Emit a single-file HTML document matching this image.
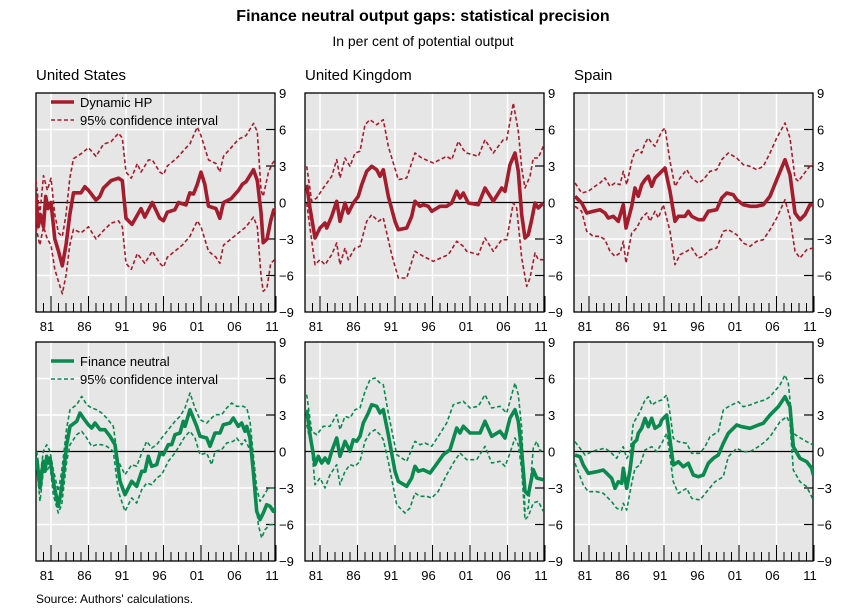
<!DOCTYPE html>
<html><head><meta charset="utf-8"><style>
body{margin:0;background:#fff;width:847px;height:609px;overflow:hidden;font-family:"Liberation Sans",Arial,sans-serif}
</style></head><body>
<svg id="s" width="847" height="609" xmlns="http://www.w3.org/2000/svg" font-family="Liberation Sans, Arial, sans-serif">
<text x="423" y="21" text-anchor="middle" font-size="16" font-weight="bold">Finance neutral output gaps: statistical precision</text>
<text x="423" y="46" text-anchor="middle" font-size="14">In per cent of potential output</text>
<text x="36" y="80" font-size="15">United States</text>
<text x="305" y="80" font-size="15">United Kingdom</text>
<text x="574" y="80" font-size="15">Spain</text>
<text x="36" y="603" font-size="12">Source: Authors' calculations.</text>
</svg>
<script>
const S=document.getElementById('s');const NS='http://www.w3.org/2000/svg';
function el(t,a,txt){const e=document.createElementNS(NS,t);for(const k in a)e.setAttribute(k,a[k]);if(txt!=null)e.textContent=txt;S.appendChild(e);return e;}
const W=239,H=219,U=H/18;
const RED='#a51d2d',GRN='#0b8a50';
function panel(L,T,id){
 el('rect',{x:L,y:T,width:W,height:H,fill:'#e6e6e6'});
 const cp=el('clipPath',{id:id});const r=document.createElementNS(NS,'rect');r.setAttribute('x',L);r.setAttribute('y',T);r.setAttribute('width',W);r.setAttribute('height',H);cp.appendChild(r);
 for(const v of [6,3,-3,-6]){const y=T+H/2-v*U;el('line',{x1:L,x2:L+W,y1:y,y2:y,stroke:'#fff','stroke-width':1.5});el('line',{x1:L+W-9,x2:L+W,y1:y,y2:y,stroke:'#000','stroke-width':1.2});}
 const labs=['81','86','91','96','01','06','11'];
 for(let i=0;i<7;i++){const x=L+15+i*37.5;el('line',{x1:x,x2:x,y1:T,y2:T+H-16,stroke:'#fff','stroke-width':1.5});el('text',{x:x-4,y:T+H+19,'font-size':13,'text-anchor':'middle'},labs[i]);}
 for(let yr=1980;yr<=2011;yr++){const x=L+(yr-1979)*7.5;const maj=(yr-1981)%5==0;el('line',{x1:x,x2:x,y1:T+H-(maj?16:9),y2:T+H,stroke:'#000','stroke-width':1});}
 el('line',{x1:L,x2:L+W,y1:T+H/2,y2:T+H/2,stroke:'#000','stroke-width':1.3});
 el('rect',{x:L,y:T,width:W,height:H,fill:'none',stroke:'#000','stroke-width':1.3});
 [9,6,3,0,-3,-6,-9].forEach(v=>el('text',{x:L+W+4,y:T+H/2-v*U+5,'font-size':13},(v<0?'\u2212'+(-v):v)));
}
function line(pts,col,main,clip){
 el('polyline',{points:pts.map(p=>p[0].toFixed(1)+','+p[1].toFixed(1)).join(' '),fill:'none',stroke:col,'stroke-width':main?3.6:1.6,'stroke-dasharray':main?'':'4,2.5','stroke-linejoin':'round','clip-path':'url(#'+clip+')'});
}
// US red from year/value
function yv(L,T,a){const o=[];for(let i=0;i<a.length;i+=2)o.push([L+(a[i]-1979)*7.5,T+H/2-a[i+1]*U]);return o;}
function zp(zx,zy,a){const o=[];for(let i=0;i<a.length;i+=2)o.push([zx+a[i]/3,zy+a[i+1]/3]);return o;}
panel(36,93,'c1');panel(305,93,'c2');panel(574,93,'c3');
panel(36,342,'c4');panel(305,342,'c5');panel(574,342,'c6');
// US red
line(yv(36,93,[1979,1.8,1979.5,-1,1980,2.2,1980.5,1,1981,2,1981.5,-1,1982,-2.5,1982.5,-2.8,1983,-1,1983.5,2,1984,3.6,1985,4,1986,4.5,1987,3.8,1988,4.8,1989,5,1990,5.7,1990.5,5.3,1991,2.5,1991.7,2,1992.5,3.2,1993,2.5,1994,3.5,1994.5,3.5,1995.5,2.5,1996,2.3,1996.5,3,1997.5,3.5,1998,3.8,1999,4.5,1999.5,4.8,2000,5.5,2000.5,6.2,2001,5.5,2002,3.5,2003,3.2,2003.5,2.5,2004,3.8,2005,4.5,2006,5.2,2007,5.5,2008,6.5,2008.5,5.8,2009,1,2009.3,0.5,2010,2.5,2010.5,3.2,2011,3.6,2011.2,4.2]),RED,0,'c1');
line(yv(36,93,[1979,-2,1979.5,-3.5,1980,-2,1980.5,-3,1981,-3.5,1981.5,-5.5,1982,-6.5,1982.5,-7.5,1983,-6,1983.5,-3.5,1984,-2.2,1985,-2.5,1986,-2,1987,-3,1988,-2.3,1989,-1.7,1990,-1.5,1990.5,-2,1991,-5,1991.7,-5.5,1992.5,-4.2,1993.5,-5,1994.5,-4,1995.5,-5,1996,-5.3,1996.5,-4.5,1997.5,-4,1998.5,-3.5,1999.5,-2.8,2000.5,-1.5,2001,-2,2002,-4,2003,-4.5,2003.5,-5,2004,-3.5,2005,-3,2006,-2.5,2007,-2,2008,-1.2,2008.5,-2,2009,-6,2009.3,-7.3,2009.8,-7,2010.3,-5,2011,-4.6]),RED,0,'c1');
line(yv(36,93,[1979,0.5,1979.3,-2,1979.6,-1,1980,-2,1980.3,0.5,1980.6,-0.5,1981,0,1981.5,-3,1982,-4,1982.5,-5.2,1983,-3.5,1983.5,-1,1984,0.8,1985,0.8,1985.5,1.3,1986,1,1987,0.2,1987.5,0.5,1988,1.2,1988.5,1.5,1989,1.8,1990,2,1990.5,1.8,1991,-1.3,1991.8,-1.8,1993,-0.5,1993.5,-1.2,1994.5,0,1995.5,-1.3,1996,-1.5,1996.5,-0.8,1997.5,-0.6,1998,0,1999,-0.2,1999.5,0.8,2000,0.7,2000.5,1.5,2001,2.5,2001.5,1.5,2002,-0.3,2003,-0.5,2003.5,-1.3,2004,0,2005,0.3,2006,1,2006.5,1.5,2007,1.7,2008,2.7,2008.5,1.8,2009,-0.8,2009.3,-3.3,2009.8,-3,2010.3,-1.5,2010.7,-0.6,2011,-0.7,2011.2,0]),RED,1,'c1');
// UK red
line(zp(300,88,[20,235,35,340,50,330,70,300,95,265,110,215,120,270,135,210,150,235,165,195,180,190,195,110,210,95,230,110,250,95,265,175,295,275,320,270,345,195,365,210,400,225,440,205,455,215,475,160,490,185,500,195,535,205,555,155,580,195,610,155,620,155,640,45,655,130,665,240,675,300,690,265,700,210,715,210,730,175]),RED,0,'c2');
line(zp(300,88,[20,345,30,420,45,530,60,515,75,530,95,500,110,465,120,530,135,480,145,515,165,480,180,475,200,400,215,380,235,400,250,390,275,500,295,570,320,570,345,490,370,505,400,520,445,500,470,460,490,475,500,490,535,500,555,450,580,490,605,455,620,455,640,345,650,360,665,510,680,595,690,570,705,495,715,515,730,515]),RED,0,'c2');
line(zp(300,88,[20,290,30,360,45,450,60,420,75,405,80,420,95,385,110,340,120,400,135,345,145,375,160,345,175,325,185,290,200,250,215,235,230,245,240,265,250,245,265,325,285,400,295,425,320,420,335,385,345,340,360,355,370,350,385,355,395,370,420,355,440,355,455,345,470,310,480,330,490,315,505,345,535,350,555,300,580,340,605,300,615,310,630,230,645,195,655,250,665,380,675,450,685,440,695,395,705,345,715,360,730,345]),RED,1,'c2');
// Spain red
line(zp(570,88,[15,285,35,315,55,310,75,295,90,285,105,270,120,295,135,285,150,290,160,250,170,290,185,220,195,190,205,185,215,195,225,165,235,150,245,165,255,175,275,130,285,120,300,220,315,295,330,270,350,245,365,270,385,285,400,275,420,250,440,245,455,215,475,195,500,210,520,230,540,235,560,245,580,235,600,195,620,150,645,105,660,150,675,270,685,280,700,260,715,240,730,225]),RED,0,'c3');
line(zp(570,88,[15,355,35,370,50,430,70,445,90,445,105,455,120,490,135,505,150,495,160,460,168,525,185,435,200,420,215,390,230,375,240,400,255,370,265,390,280,350,300,430,315,530,330,500,350,490,365,480,385,510,400,505,420,485,440,480,460,430,475,425,500,440,520,465,540,475,560,460,580,455,600,425,620,390,645,335,660,390,675,490,690,510,710,485,730,480]),RED,0,'c3');
line(zp(570,88,[15,325,35,345,50,375,70,370,90,365,105,375,115,390,130,385,145,400,160,350,168,420,185,355,195,300,205,325,215,290,225,275,235,265,245,295,255,270,270,255,285,240,300,310,315,400,325,385,345,385,355,370,365,385,385,395,400,395,415,370,440,365,455,330,470,315,490,320,500,335,520,350,540,355,560,355,580,350,600,325,620,275,645,215,660,260,675,375,690,395,705,380,720,350,730,350]),RED,1,'c3');
// US green
line(zp(30,338,[20,340,30,420,40,340,50,320,60,340,70,395,85,460,95,400,110,270,120,215,140,200,155,175,170,200,185,210,200,215,215,225,230,240,250,265,265,370,285,410,305,380,320,385,335,345,350,310,365,330,380,320,395,300,415,275,435,250,450,235,465,210,480,165,495,210,510,245,530,255,545,240,555,230,575,230,590,210,605,195,620,205,640,205,650,210,660,250,670,350,680,450,690,490,700,475,715,450,730,450,740,440]),GRN,0,'c4');
line(zp(30,338,[20,380,30,490,40,400,50,400,60,380,70,470,85,525,95,500,110,370,120,320,140,290,155,280,170,300,185,325,200,320,215,320,230,325,250,340,265,460,285,520,305,480,320,495,335,455,350,435,365,440,380,420,395,410,415,370,435,345,450,320,465,295,480,280,495,300,510,350,530,345,545,380,555,340,575,335,590,315,610,310,620,300,635,320,645,305,655,325,665,350,675,450,685,560,695,600,705,575,720,560,730,560,740,570]),GRN,0,'c4');
line(zp(30,338,[20,360,30,450,40,370,45,400,50,355,55,375,60,360,70,430,85,505,95,450,110,320,120,265,140,250,150,225,160,240,175,260,185,270,195,255,210,275,225,275,240,295,255,320,270,430,285,470,305,430,320,445,335,400,345,400,355,355,365,385,380,380,390,345,400,350,415,320,425,320,435,290,450,285,460,250,465,265,480,215,490,240,500,265,510,295,530,300,540,325,555,285,570,285,580,260,600,255,610,240,625,265,635,255,645,280,650,265,660,300,670,400,680,520,690,545,700,525,710,500,720,505,730,520,740,505]),GRN,1,'c4');
// UK green
line(zp(300,338,[20,170,35,280,50,290,70,265,90,265,110,230,120,275,135,235,150,240,165,215,180,210,195,160,210,125,225,120,240,135,250,140,265,225,290,350,320,370,345,310,360,320,375,315,395,325,415,295,440,255,460,200,490,190,510,210,535,205,555,170,575,210,600,205,620,225,645,135,655,170,665,270,675,520,685,510,700,330,710,310,720,340,730,330]),GRN,0,'c5');
line(zp(300,338,[20,260,35,330,45,440,60,420,75,450,90,410,110,380,120,440,135,400,150,380,165,385,180,370,195,310,210,285,225,275,240,290,250,305,265,370,290,500,315,525,330,510,345,465,360,475,380,475,395,480,415,460,440,410,460,375,480,345,500,365,530,365,555,325,575,375,600,370,615,385,630,345,645,300,655,320,665,395,675,545,685,535,700,495,715,490,730,520]),GRN,0,'c5');
line(zp(300,338,[20,215,30,290,45,380,55,355,65,375,75,360,85,375,95,340,110,300,120,355,135,310,150,340,160,305,170,310,180,295,190,255,205,225,215,200,230,205,240,225,250,215,265,290,285,400,295,430,320,445,335,420,345,385,355,400,370,395,390,405,405,385,430,350,450,335,470,270,480,285,490,265,510,285,540,285,555,250,575,295,600,280,615,300,630,240,645,215,655,250,665,340,675,460,685,470,700,395,710,420,730,425]),GRN,1,'c5');
// Spain green
line(zp(520,300,[165,425,180,445,195,465,215,455,230,450,255,445,270,455,290,475,300,455,310,440,320,475,330,460,340,370,360,335,375,300,385,290,395,315,410,305,425,300,440,285,450,340,460,415,475,425,500,430,515,460,540,460,555,440,570,410,595,395,610,330,625,320,655,305,670,320,690,315,715,305,735,300,750,290,780,255,795,225,805,250,820,400,835,410,860,425,880,435]),GRN,0,'c6');
line(zp(520,300,[165,490,190,555,205,575,230,575,250,580,260,590,275,605,290,625,305,630,310,610,320,630,335,550,345,505,360,495,375,450,395,440,410,455,425,430,440,400,450,470,460,545,475,580,500,565,515,595,540,600,560,575,585,545,610,530,625,470,650,445,670,455,690,455,715,440,735,425,750,410,780,365,800,350,810,370,820,510,840,545,860,560,880,600]),GRN,0,'c6');
line(zp(520,300,[165,465,180,470,190,495,205,520,230,515,250,510,260,520,275,535,285,565,295,545,305,550,310,505,320,565,330,510,340,430,350,420,355,400,365,385,375,355,385,380,395,355,405,385,420,375,425,360,440,345,450,420,460,495,475,485,490,500,505,490,520,525,535,530,550,525,565,490,580,475,595,465,610,430,625,400,650,375,665,380,690,385,715,375,730,370,750,345,775,320,795,290,810,320,820,440,840,475,860,485,875,505,880,525]),GRN,1,'c6');
// legends
function leg(T,col,a,b){
 el('line',{x1:51,x2:74,y1:T,y2:T,stroke:col,'stroke-width':3.6});
 el('text',{x:80,y:T+5,'font-size':13},a);
 el('line',{x1:51,x2:74,y1:T+18,y2:T+18,stroke:col,'stroke-width':1.6,'stroke-dasharray':'4,2.5'});
 el('text',{x:80,y:T+23,'font-size':13},b);
}
leg(102,RED,'Dynamic HP','95% confidence interval');
leg(361,GRN,'Finance neutral','95% confidence interval');
</script>
</body></html>
